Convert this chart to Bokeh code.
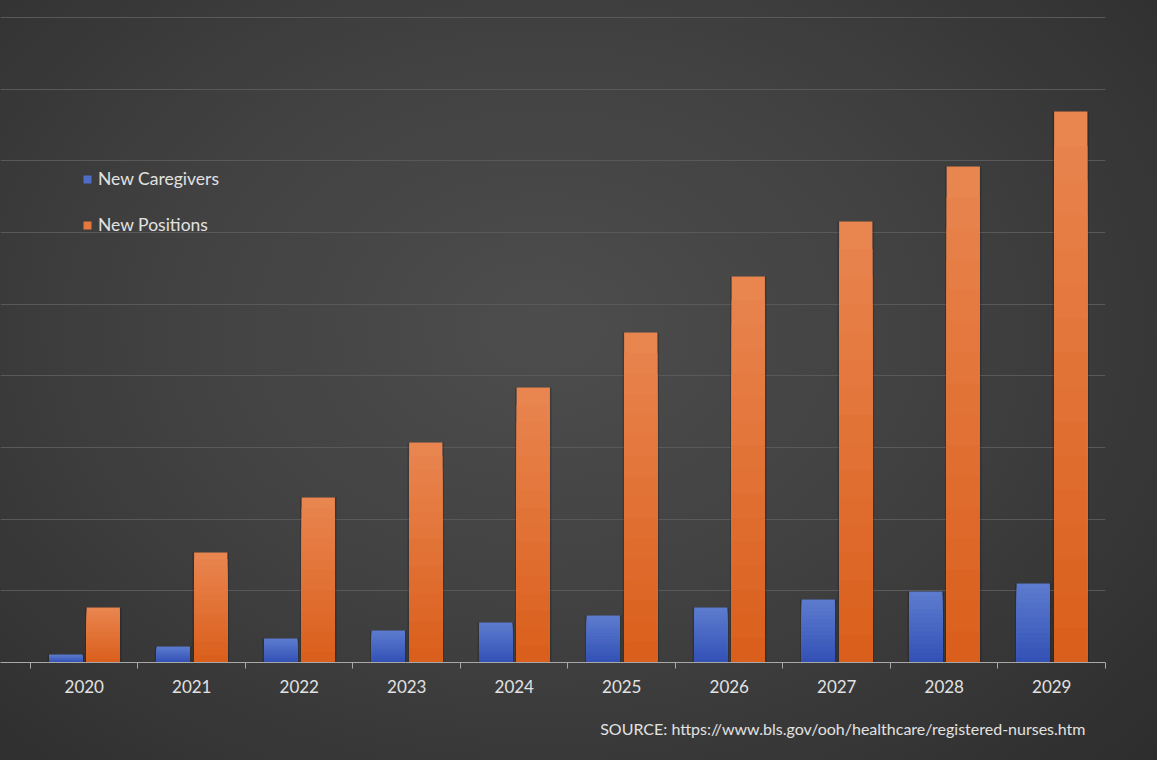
import numpy as np
from bokeh.plotting import figure
from bokeh.models import (Range1d, FixedTicker, ColumnDataSource, Legend, LegendItem, Title)
from bokeh.transform import dodge
from bokeh.embed import file_html
from bokeh.resources import INLINE

# ---- data (grid step = 10 units) ----
years = ["2020", "2021", "2022", "2023", "2024", "2025", "2026", "2027", "2028", "2029"]
new_caregivers = [1.12, 2.23, 3.35, 4.47, 5.58, 6.56, 7.67, 8.79, 9.91, 11.02]
new_positions = [7.67, 15.35, 23.02, 30.70, 38.37, 46.05, 53.86, 61.53, 69.21, 76.88]
grid_ticks = [0, 10, 20, 30, 40, 50, 60, 70, 80, 90]
source_text = "SOURCE: https://www.bls.gov/ooh/healthcare/registered-nurses.htm"

FONT = "Lato"
TXT = "#e2e2e2"
BAR_W = 0.31
N_SHADES = 16

idx = list(range(len(years)))
data = dict(x=idx, cg=new_caregivers, np_=new_positions)
fracs = [1 - k / N_SHADES for k in range(N_SHADES)]
for k, f in enumerate(fracs):
    data[f"cg_{k}"] = [v * f for v in new_caregivers]
    data[f"np_{k}"] = [v * f for v in new_positions]
src = ColumnDataSource(data)

p = figure(width=1157, height=760, output_backend="svg", toolbar_location=None,
           x_range=Range1d(-0.779, 9.5), y_range=Range1d(0, 92.37),
           min_border_left=0, min_border_right=52, min_border_top=0, min_border_bottom=98)

p.background_fill_color = None
p.border_fill_color = None
p.outline_line_color = None
p.styles = {"background": "radial-gradient(ellipse 75% 85% at 47% 43%, #4d4d4d 0%, #414141 45%, #2c2c2c 100%)"}


def lerp_hex(c0, c1, t):
    a = [int(c0[i:i + 2], 16) for i in (1, 3, 5)]
    b = [int(c1[i:i + 2], 16) for i in (1, 3, 5)]
    return "#" + "".join(f"{round(a[j] + (b[j] - a[j]) * t):02x}" for j in range(3))


def shaded_bars(prefix, offset, col, top_c, bot_c):
    xs = dodge("x", offset, range=p.x_range)
    # soft shadow behind the bar
    p.vbar(x=xs, top=col, width=BAR_W + 0.03, source=src,
           fill_color="#000000", fill_alpha=0.18, line_color=None)
    rends = []
    for k in range(N_SHADES):
        t = k / (N_SHADES - 1)
        r = p.vbar(x=xs, top=f"{prefix}_{k}", width=BAR_W, source=src,
                   fill_color=lerp_hex(top_c, bot_c, t), line_color=None)
        rends.append(r)
    return rends


blue_r = shaded_bars("cg", -0.172, "cg", "#5c7bce", "#3452b6")
orange_r = shaded_bars("np", 0.177, "np_", "#e9854f", "#da5f1c")

# y axis hidden, grid only
p.yaxis.visible = False
p.yaxis.ticker = FixedTicker(ticks=grid_ticks)
p.ygrid.grid_line_color = "#595959"
p.ygrid.grid_line_width = 1
p.xgrid.visible = False

xa = p.xaxis[0]
xa.ticker = FixedTicker(ticks=idx, minor_ticks=[i - 0.5 for i in range(len(years) + 1)])
xa.major_label_overrides = {i: y for i, y in enumerate(years)}
xa.axis_line_color = "#a8a8a8"
xa.axis_line_width = 1
xa.major_tick_line_color = None
xa.major_tick_out = 0
xa.major_tick_in = 0
xa.minor_tick_line_color = "#a8a8a8"
xa.minor_tick_out = 6
xa.minor_tick_in = 0
xa.major_label_text_color = TXT
xa.major_label_text_font = FONT
xa.major_label_text_font_size = "17px"
xa.major_label_standoff = 11

legend = Legend(items=[LegendItem(label="New Caregivers", renderers=[blue_r[N_SHADES // 3]]),
                       LegendItem(label="New Positions", renderers=[orange_r[N_SHADES // 3]])],
                location=(82, 427), orientation="vertical",
                background_fill_alpha=0, border_line_color=None,
                padding=0, margin=0, spacing=25,
                glyph_width=10, glyph_height=10, label_standoff=6,
                label_height=20, label_text_color=TXT, label_text_font=FONT,
                label_text_font_size="17.5px")
p.add_layout(legend, "center")

p.add_layout(Title(text=source_text, align="right", offset=20, standoff=42,
                   text_color=TXT, text_font=FONT, text_font_size="16px",
                   text_font_style="normal"), "below")

open("out.html", "w").write(file_html(p, INLINE))
